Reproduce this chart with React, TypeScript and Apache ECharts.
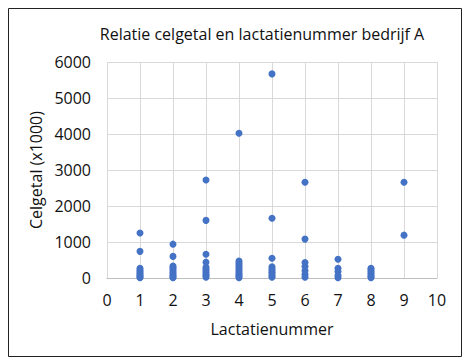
import React, { useEffect, useRef } from "react";
import * as echarts from "echarts";

const title = "Relatie celgetal en lactatienummer bedrijf A";
const xName = "Lactatienummer";
const yName = "Celgetal (x1000)";

const lact1 = [1250, 740, 270, 220, 180, 140, 100, 60, 30, 10];
const lact2 = [940, 600, 330, 290, 250, 200, 150, 110, 70, 30, 10];
const lact3 = [2720, 1600, 660, 440, 300, 250, 200, 150, 100, 60, 20];
const lact4 = [4020, 470, 420, 370, 320, 270, 220, 170, 120, 80, 40, 10];
const lact5 = [5670, 1660, 550, 310, 260, 210, 160, 110, 60, 20];
const lact6 = [2660, 1080, 430, 320, 200, 100, 20];
const lact7 = [520, 270, 180, 70, 10];
const lact8 = [270, 230, 180, 130, 80, 40, 10];
const lact9 = [2660, 1190];

const groups = [lact1, lact2, lact3, lact4, lact5, lact6, lact7, lact8, lact9];

export default function App() {
  const ref = useRef<HTMLDivElement>(null);
  useEffect(() => {
    if (!ref.current) return;
    const chart = echarts.init(ref.current, undefined, { renderer: "svg" });
    const data: number[][] = [];
    groups.forEach((g, i) => g.forEach((v) => data.push([i + 1, v])));
    const font = "Open Sans";
    const txt = "#111";
    chart.setOption({
      animation: false,
      backgroundColor: "#fff",
      title: {
        text: title,
        left: 257,
        top: 21,
        textAlign: "center",
        textStyle: { fontFamily: font, fontSize: 16, fontWeight: "normal", color: txt },
      },
      grid: { left: 107, right: 33, top: 62, bottom: 85 },
      xAxis: {
        type: "value",
        min: 0,
        max: 10,
        interval: 1,
        name: xName,
        nameLocation: "middle",
        nameGap: 43,
        nameTextStyle: { fontFamily: font, fontSize: 16, color: txt },
        axisLine: { show: true, lineStyle: { color: "#bfbfbf" } },
        axisTick: { show: false },
        splitLine: { show: true, lineStyle: { color: "#d9d9d9" } },
        axisLabel: { fontFamily: font, fontSize: 16, color: txt, margin: 14 },
      },
      yAxis: {
        type: "value",
        min: 0,
        max: 6000,
        interval: 1000,
        name: yName,
        nameLocation: "middle",
        nameGap: 62,
        nameTextStyle: { fontFamily: font, fontSize: 16, color: txt },
        axisLine: { show: false },
        axisTick: { show: false },
        splitLine: { show: true, lineStyle: { color: "#d9d9d9" } },
        axisLabel: {
          fontFamily: font,
          fontSize: 16,
          color: txt,
          margin: 16,
          formatter: (v: number) => String(v),
        },
      },
      graphic: [
        {
          type: "rect",
          shape: { x: 8.5, y: 8.5, width: 453, height: 348 },
          style: { fill: "none", stroke: "#222", lineWidth: 1 },
          silent: true,
        },
      ],
      series: [
        {
          type: "scatter",
          data,
          symbolSize: 7,
          itemStyle: { color: "#4472C4", opacity: 1 },
        },
      ],
    });
    return () => chart.dispose();
  }, []);
  return (
    <div
      ref={ref}
      style={{ position: "absolute", left: 0, top: 0, width: 470, height: 363 }}
    />
  );
}
